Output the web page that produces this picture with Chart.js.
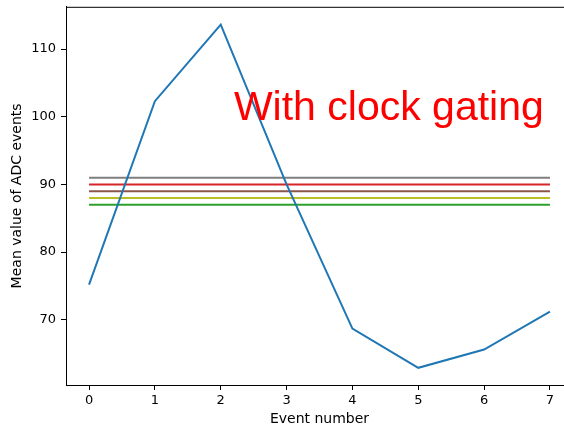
<!DOCTYPE html>
<html lang="en">
<head>
    <meta charset="UTF-8">
    <title>Mean value of ADC events</title>
    <script src="https://cdn.jsdelivr.net/npm/chart.js"></script>
    <style>
        html, body { margin: 0; padding: 0; overflow: hidden; background: #fff; }
        .grafica { position: absolute; left: 0; top: -6px; width: 580px; height: 434px; }
    </style>
</head>
<body>
    <div class="grafica">
        <canvas id="myChart"></canvas>
    </div>
    <script>
        // Datos
        const eventos = [0, 1, 2, 3, 4, 5, 6, 7];
        const mediaADC = [75.2, 102.3, 113.6, 90.0, 68.7, 62.9, 65.6, 71.2];
        const nivelGris = [91, 91];
        const nivelRojo = [90, 90];
        const nivelCafe = [89, 89];
        const nivelOliva = [88, 88];
        const nivelVerde = [87, 87];
        const extremosX = [0, 7];
        const ticksX = [0, 1, 2, 3, 4, 5, 6, 7];
        const ticksY = [70, 80, 90, 100, 110];
        const texto = 'With clock gating';

        function puntos(xs, ys) {
            return xs.map((x, i) => ({ x: x, y: ys[i] }));
        }

        function linea(ys, color) {
            return {
                data: puntos(extremosX, ys),
                borderColor: color,
                borderWidth: 2,
                pointRadius: 0,
                fill: false,
                order: 2
            };
        }

        // Marco completo alrededor del area y texto rojo
        const marco = {
            id: 'marco',
            afterDraw(chart) {
                const ctx = chart.ctx;
                const a = chart.chartArea;
                const sx = chart.scales.x, sy = chart.scales.y;
                ctx.save();
                ctx.fillStyle = 'red';
                ctx.font = '41px "Liberation Sans", Arial, sans-serif';
                ctx.textBaseline = 'alphabetic';
                ctx.fillText(texto, sx.getPixelForValue(2.2), sy.getPixelForValue(99.5));
                ctx.strokeStyle = '#000';
                ctx.lineWidth = 1;
                ctx.strokeRect(a.left + 0.5, a.top + 0.5, a.right - a.left, a.bottom - a.top);
                ctx.restore();
            }
        };

        const fuenteTicks = { family: '"DejaVu Sans", sans-serif', size: 13 };
        const fuente = { family: '"DejaVu Sans", sans-serif', size: 14 };

        const config = {
            type: 'line',
            data: {
                datasets: [
                    linea(nivelGris, '#7f7f7f'),
                    linea(nivelRojo, '#d62728'),
                    linea(nivelCafe, '#8c564b'),
                    linea(nivelOliva, '#bcbd22'),
                    linea(nivelVerde, '#2ca02c'),
                    {
                        data: puntos(eventos, mediaADC),
                        borderColor: '#1f77b4',
                        borderWidth: 2,
                        pointRadius: 0,
                        fill: false,
                        tension: 0,
                        order: 1
                    }
                ]
            },
            options: {
                responsive: true,
                maintainAspectRatio: false,
                animation: false,
                layout: { padding: { top: 2, right: 7, left: 9, bottom: 0 } },
                plugins: { legend: { display: false }, tooltip: { enabled: false } },
                scales: {
                    x: {
                        type: 'linear',
                        min: -0.35,
                        max: 7.35,
                        afterBuildTicks: (axis) => { axis.ticks = ticksX.map(v => ({ value: v })); },
                        afterFit: (axis) => { axis.height = 43; },
                        grid: { drawOnChartArea: false, drawTicks: true, tickLength: 5, color: '#000' },
                        border: { display: true, color: '#000' },
                        ticks: { color: '#000', font: fuenteTicks, padding: 3, maxRotation: 0 },
                        title: { display: true, text: 'Event number', color: '#000', font: fuente, padding: { top: 0, bottom: 0 } }
                    },
                    y: {
                        type: 'linear',
                        min: 60.36,
                        max: 116.24,
                        afterBuildTicks: (axis) => { axis.ticks = ticksY.map(v => ({ value: v })); },
                        afterFit: (axis) => { axis.width = 57; },
                        grid: { drawOnChartArea: false, drawTicks: true, tickLength: 5, color: '#000' },
                        border: { display: true, color: '#000' },
                        ticks: { color: '#000', font: fuenteTicks, padding: 5 },
                        title: { display: true, text: 'Mean value of ADC events', color: '#000', font: fuente, padding: { top: 0, bottom: 0 } }
                    }
                }
            },
            plugins: [marco]
        };

        new Chart(document.getElementById('myChart'), config);
    </script>
</body>
</html>
